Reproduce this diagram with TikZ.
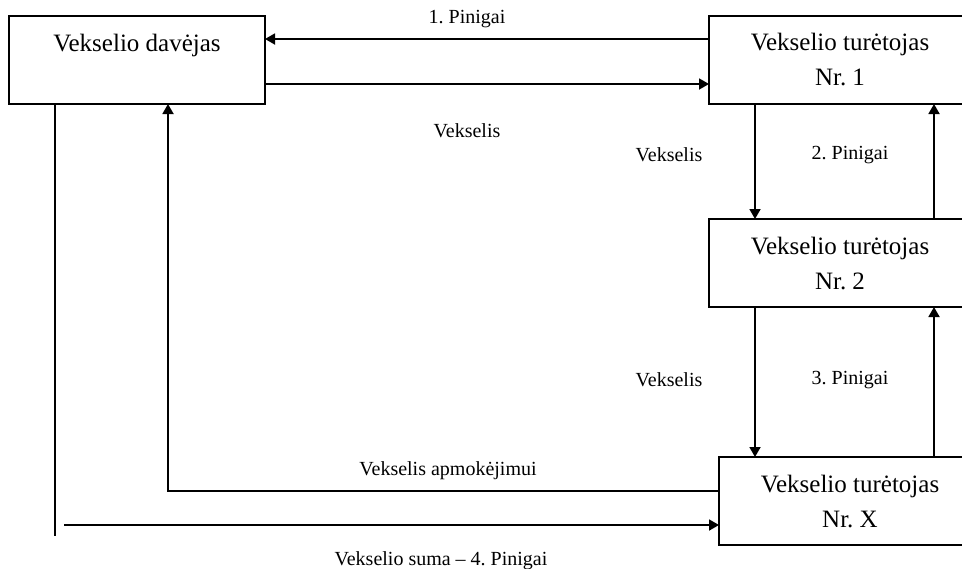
\documentclass[tikz,border=0pt]{standalone}
\usepackage{fontspec}
\setmainfont{Liberation Serif}
\usetikzlibrary{arrows.meta}
\frenchspacing
\begin{document}
\begin{tikzpicture}[x=0.5pt,y=-0.5pt,
  box/.style={draw, line width=1pt, rectangle, inner sep=0pt, outer sep=0pt,
    minimum height=44pt, align=center, font=\fontsize{12.5}{17.5}\selectfont},
  lbl/.style={font=\fontsize{10}{12}\selectfont, inner sep=0pt},
  arr/.style={line width=0.9pt, -{Triangle[length=5pt,width=5.5pt]}},
  ln/.style={line width=0.9pt}]
\clip (0,0) rectangle (962,568);

% parties
\node[box, minimum width=128pt] (A)  at (137,60)  {Vekselio davėjas\\ \mbox{}};
\node[box, minimum width=131pt] (H1) at (840,60)  {Vekselio turėtojas\\Nr. 1};
\node[box, minimum width=131pt] (H2) at (840,263) {Vekselio turėtojas\\Nr. 2};
\node[box, minimum width=131pt] (HX) at (850,501) {Vekselio turėtojas\\Nr. X};

% guide levels for the connectors
\coordinate (y39)  at (0,39);
\coordinate (y84)  at (0,84);
\coordinate (y491) at (0,491);
\coordinate (x755) at (755,0);
\coordinate (x934) at (934,0);
\coordinate (x168) at (168,0);
\coordinate (leftend) at (55,536);
\coordinate (bottomstart) at (64,525);

% connectors
\draw[arr] (H1.west |- y39) -- (A.east |- y39);
\draw[arr] (A.east |- y84) -- (H1.west |- y84);
\draw[arr] (H1.south -| x755) -- (H2.north -| x755);
\draw[arr] (H2.north -| x934) -- (H1.south -| x934);
\draw[arr] (H2.south -| x755) -- (HX.north -| x755);
\draw[arr] (HX.north -| x934) -- (H2.south -| x934);
\draw[arr] (HX.west |- y491) -| (A.south -| x168);
\draw[ln]  (A.south -| leftend) -- (leftend);
\draw[arr] (bottomstart) -- (HX.west |- bottomstart);

% labels
\node[lbl] (l1) at (467,19)  {1. Pinigai};
\node[lbl] (l2) at (467,131) {Vekselis};
\node[lbl] (l3) at (669,155) {Vekselis};
\node[lbl] (l4) at (850,155) {2. Pinigai};
\node[lbl] (l5) at (669,380) {Vekselis};
\node[lbl] (l6) at (850,380) {3. Pinigai};
\node[lbl] (l7) at (448,471) {Vekselis apmokėjimui};
\node[lbl] (l8) at (441,561) {Vekselio suma – 4. Pinigai};
\end{tikzpicture}
\end{document}
